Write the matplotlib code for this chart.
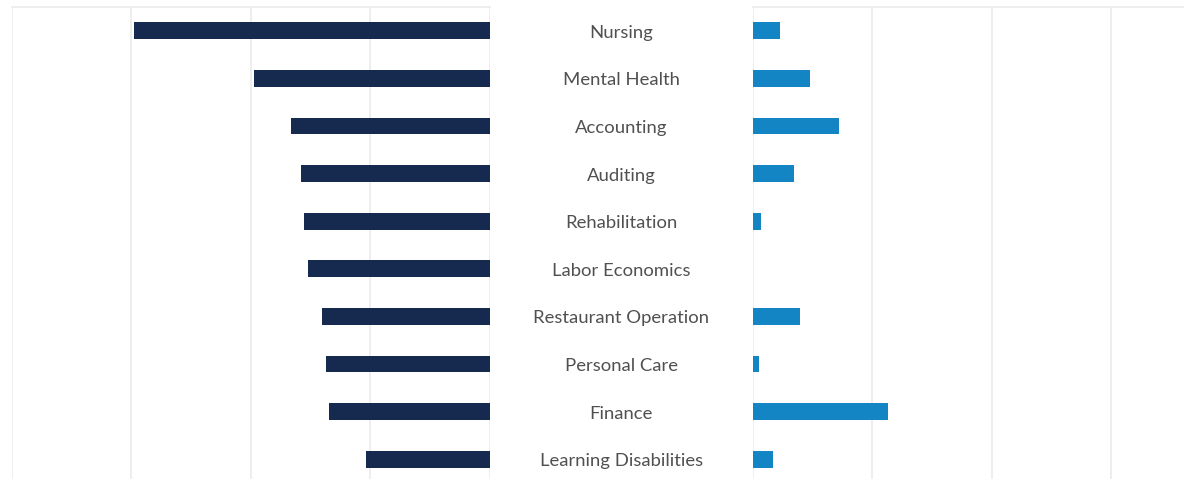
import numpy as np
import matplotlib.pyplot as plt

categories = ['Nursing', 'Mental Health', 'Accounting', 'Auditing', 'Rehabilitation',
              'Labor Economics', 'Restaurant Operation', 'Personal Care', 'Finance',
              'Learning Disabilities']
left_values = [298, 197, 166, 158, 155, 152, 140, 137, 134, 103]
right_values = [23, 48, 72, 34, 7, 0, 39, 5, 113, 17]

W, H = 1184, 479
fig = plt.figure(figsize=(W / 100, H / 100), dpi=100)

grid_color = '#ebebeb'
navy = '#16294f'
blue = '#1385c4'

# axes placed in pixel units, bottom runs slightly past the figure edge (cropped)
top_px, bottom_px = 7, 483
def px_axes(x0, x1):
    return fig.add_axes([x0 / W, 1 - bottom_px / H, (x1 - x0) / W, (bottom_px - top_px) / H])

y = np.arange(len(categories))

ax_l = px_axes(11.7, 489.5)
ax_l.barh(y, [-v for v in left_values], height=0.35, color=navy)
ax_l.set_xticks([-400, -300, -200, -100, 0])
ax_l.set_xlim(-400, 0)

ax_r = px_axes(753, 1184)
ax_r.barh(y, right_values, height=0.35, color=blue)
ax_r.set_xticks([0, 100, 200, 300])
ax_r.set_xlim(0, 361)

for ax in (ax_l, ax_r):
    ax.set_ylim(len(categories) - 0.5, -0.5)
    ax.tick_params(length=0, labelbottom=False, labelleft=False)
    ax.set_yticks([])
    ax.grid(axis='x', color=grid_color, linewidth=1.2)
    ax.set_axisbelow(True)
    for s in ax.spines.values():
        s.set_visible(False)
    ax.spines['top'].set_visible(True)
    ax.spines['top'].set_color(grid_color)
    ax.spines['top'].set_linewidth(1.2)

# category labels in the gap between the two panels
ax_mid = px_axes(489.5, 753)
ax_mid.set_xlim(0, 1)
ax_mid.set_ylim(len(categories) - 0.5, -0.5)
ax_mid.axis('off')
for i, c in enumerate(categories):
    ax_mid.text(0.5, i + 0.04, c, ha='center', va='center', fontsize=13.3,
                family='Lato', color='#505050')

fig.savefig('out.png', dpi=100)
